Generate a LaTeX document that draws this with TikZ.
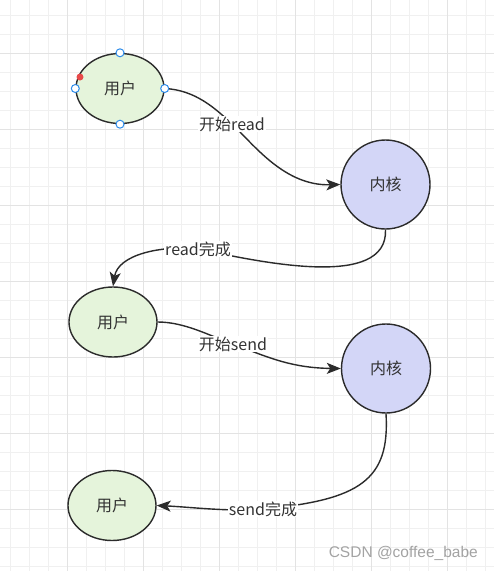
\documentclass[tikz,border=0pt]{standalone}
\usepackage{fontspec}
\setmainfont{Noto Sans CJK SC}
\newfontfamily\wmfont{Liberation Sans}
\usetikzlibrary{arrows.meta,shapes.geometric}
\definecolor{gridminor}{HTML}{F0F0F0}
\definecolor{gridmajor}{HTML}{E3E3E3}
\definecolor{userfill}{HTML}{E5F4DB}
\definecolor{kernfill}{HTML}{D3D6F7}
\definecolor{edgecol}{HTML}{2B2B2B}
\definecolor{txtcol}{HTML}{333333}
\definecolor{handleblue}{HTML}{2D8CEB}
\definecolor{handlered}{HTML}{E84A4A}
\definecolor{wmgray}{HTML}{A3A3A3}
\tikzset{
  userbox/.style={ellipse, draw=edgecol, line width=1.4pt, fill=userfill,
    minimum width=88pt, minimum height=70pt, inner sep=0pt,
    font=\fontsize{16}{18}\selectfont, text=txtcol},
  kernbox/.style={circle, draw=edgecol, line width=1.4pt, fill=kernfill,
    minimum size=89pt, inner sep=0pt,
    font=\fontsize{16}{18}\selectfont, text=txtcol},
  conn/.style={draw=edgecol, line width=1.4pt,
    -{Stealth[length=14pt,width=11pt,inset=3.5pt]}},
  elabel/.style={fill=white, inner sep=1pt,
    font=\fontsize{16}{18}\selectfont, text=txtcol},
  handle/.style={circle, draw=handleblue, fill=white, line width=1pt,
    minimum size=8pt, inner sep=0pt},
  reddot/.style={circle, fill=handlered, minimum size=7pt, inner sep=0pt},
}
\begin{document}
\begin{tikzpicture}[x=1pt,y=-1pt]
\useasboundingbox (0,0) rectangle (494,571);
\fill[white] (0,0) rectangle (494,571);
% grid
\foreach \gx in {10,29,...,494} {\draw[gridminor,line width=1pt] (\gx,0) -- (\gx,571);}
\foreach \gy in {15,34,...,571} {\draw[gridminor,line width=1pt] (0,\gy) -- (494,\gy);}
\foreach \gx in {67,143,...,494} {\draw[gridmajor,line width=1pt] (\gx,0) -- (\gx,571);}
\foreach \gy in {53,129,...,571} {\draw[gridmajor,line width=1pt] (0,\gy) -- (494,\gy);}

% nodes
\node[userbox] (u1) at (120,88.5) {用户};
\node[kernbox] (k1) at (385.5,184.5) {内核};
\node[userbox] (u2) at (113,322) {用户};
\node[kernbox] (k2) at (386,368.5) {内核};
\node[userbox] (u3) at (112,505.5) {用户};

% label anchor coordinates
\coordinate (m1) at (232,124);
\coordinate (m2) at (198,249);
\coordinate (m3) at (233,344);
\coordinate (m4) at (263,509);

% connectors
\draw[conn] (u1.east) .. controls (195,90) and (215,108) .. (m1)
  .. controls (255,146) and (285,186) .. (k1.west);
\draw[conn] (k1.south) .. controls (388,290) and (260,262) .. (m2)
  .. controls (160,245) and (118,255) .. (u2.north);
\draw[conn] (u2.east) .. controls (185,322) and (210,336) .. (m3)
  .. controls (265,356) and (290,368) .. (k2.west);
\draw[conn] (k2.south) .. controls (390,480) and (360,500) .. (m4)
  .. controls (230,512) and (190,507) .. (u3.east);

% edge labels
\node[elabel] (l1) at (m1) {开始read};
\node[elabel] (l2) at (m2) {read完成};
\node[elabel] (l3) at (m3) {开始send};
\node[elabel] (l4) at (m4) {send完成};

% selection handles on first user node
\node[handle] (h1) at (u1.north) {};
\node[handle] (h2) at (u1.south) {};
\node[handle] (h3) at (u1.west) {};
\node[handle] (h4) at (u1.east) {};
\node[reddot] (h5) at (80,77) {};

% watermark
\node[anchor=east, text=wmgray, font=\wmfont\fontsize{15.5}{18}\selectfont, inner sep=0pt] (wm) at (478,553) {CSDN @coffee\_babe};
\end{tikzpicture}
\end{document}
